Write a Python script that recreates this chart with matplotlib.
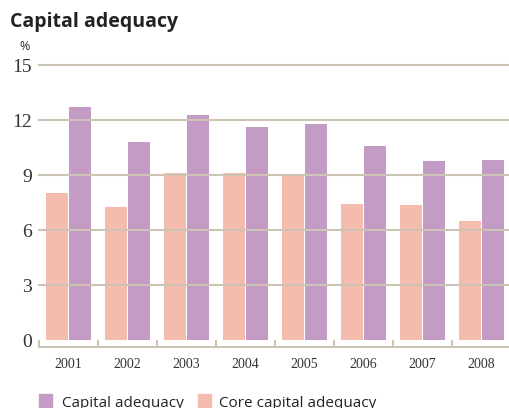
import numpy as np
import matplotlib.pyplot as plt

years = ['2001', '2002', '2003', '2004', '2005', '2006', '2007', '2008']
capital = [12.7, 10.8, 12.3, 11.6, 11.8, 10.6, 9.75, 9.8]
core = [8.0, 7.25, 9.1, 9.1, 9.0, 7.4, 7.35, 6.5]
yticks = [0, 3, 6, 9, 12, 15]

purple = '#c39bc4'
peach = '#f4bcac'
rule = '#cdc4b6'

plt.rcParams['font.family'] = ['Open Sans', 'DejaVu Sans']

fig = plt.figure(figsize=(5.1, 4.08), dpi=100)
ax = fig.add_axes([39 / 510, 61 / 408, 472 / 510, 283.8 / 408])

x = np.arange(len(years))
w = 0.373
ax.bar(x - 0.203, core, width=w, color=peach, zorder=2)
ax.bar(x + 0.203, capital, width=w, color=purple, zorder=2)

# horizontal rules sit over the bars
for v in yticks[1:]:
    ax.axhline(v, color=rule, lw=1.5, zorder=3, clip_on=False)

ax.set_xlim(-0.5, 7.5)
ax.set_ylim(-0.38, 15.1)

for s in ['top', 'right', 'left']:
    ax.spines[s].set_visible(False)
ax.spines['bottom'].set_color(rule)
ax.spines['bottom'].set_linewidth(1.5)

ax.set_yticks(yticks)
ax.set_yticklabels([str(v) for v in yticks], family='Liberation Serif',
                   fontsize=14, color='#333333')
ax.tick_params(axis='y', length=0, pad=5)

ax.set_xticks(x)
ax.set_xticklabels(years, family='Liberation Serif', fontsize=10, color='#333333')
ax.set_xticks(np.arange(-0.5, 8.0, 1.0), minor=True)
ax.tick_params(axis='x', which='major', length=0, pad=8)
ax.tick_params(axis='x', which='minor', direction='in', length=5, width=1.5, color=rule)

fig.text(10 / 510, 1 - 22 / 408, 'Capital adequacy', fontsize=14, fontweight='bold',
         color='#222222', va='center', ha='left')
fig.text(25 / 510, 1 - 47 / 408, '%', fontsize=9, color='#333333', va='center', ha='center')

# legend
fig.patches.append(plt.Rectangle((39 / 510, 0), 13 / 510, 14 / 408,
                                 transform=fig.transFigure, color=purple))
fig.text(62 / 510, 1 / 408, 'Capital adequacy', fontsize=11, color='#222222',
         va='baseline', ha='left')
fig.patches.append(plt.Rectangle((198 / 510, 0), 13 / 510, 14 / 408,
                                 transform=fig.transFigure, color=peach))
fig.text(219 / 510, 1 / 408, 'Core capital adequacy', fontsize=11, color='#222222',
         va='baseline', ha='left')

fig.savefig('out.png', dpi=100)
